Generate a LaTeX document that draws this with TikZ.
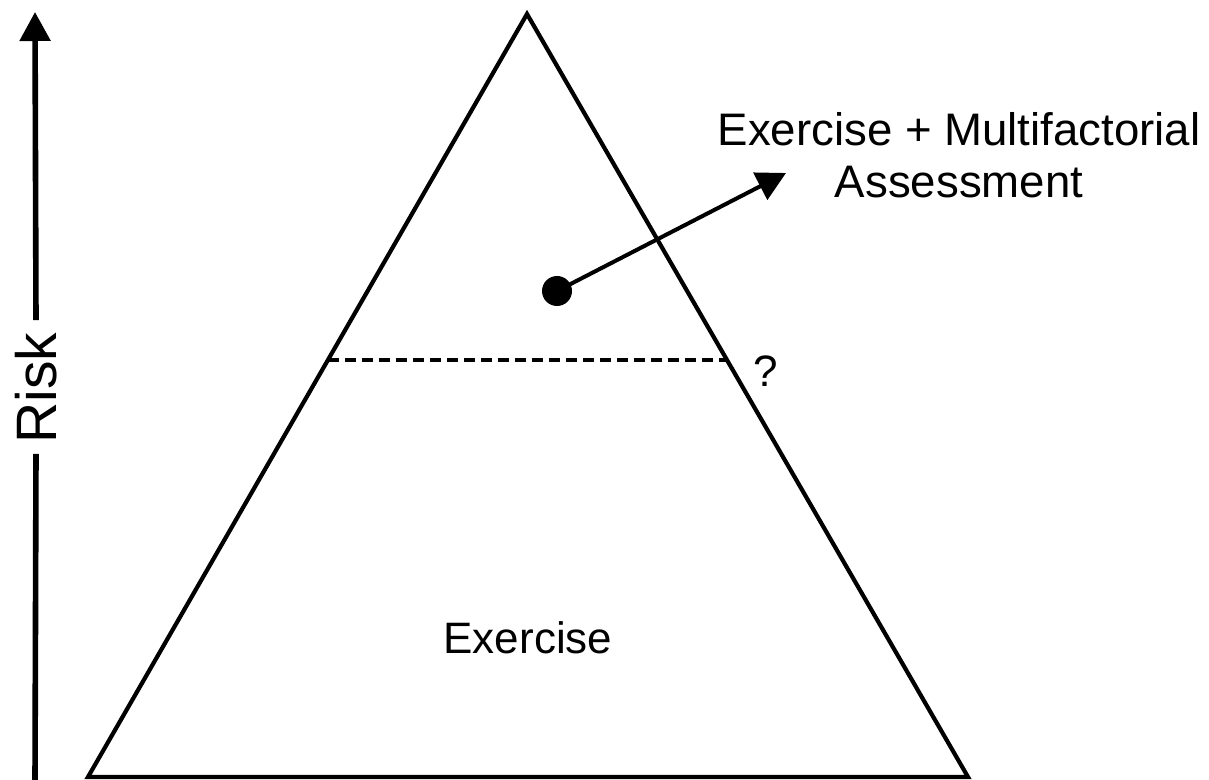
\documentclass[tikz,border=0pt]{standalone}
\usepackage{fontspec}
\setmainfont{Liberation Sans}
\usetikzlibrary{arrows.meta,calc}
\begin{document}
\begin{tikzpicture}[x=0.5pt,y=-0.5pt,
  edge/.style={line width=2.1pt,line join=miter},
  lbl/.style={font=\fontsize{22pt}{26pt}\selectfont,inner sep=0pt,align=center},
  dashline/.style={line width=1.6pt,dash pattern=on 5.5pt off 3pt},
  bigtip/.style={-{Triangle[length=14.5pt,width=15pt]}}]
\useasboundingbox (0,0) rectangle (1209,780);
% triangle
\coordinate (apex) at (527,14);
\coordinate (bl) at (88,777);
\coordinate (br) at (968,777);
\draw[edge] (bl) -- (apex) -- (br) -- cycle;
% dashed level
\coordinate (dl) at ($(bl)!0.5465!(apex)$);
\coordinate (dr) at ($(br)!0.5465!(apex)$);
\draw[dashline] (dl) -- (dr);
\node[lbl] (q) at (766,371) {?};
% risk axis
\coordinate (axbot) at (35,782);
\coordinate (axtop) at (35,12);
\node[lbl,rotate=90,font=\fontsize{28.5pt}{32pt}\selectfont] (risk) at (36,388) {Risk};
\draw[line width=2.8pt] (axbot) -- ([yshift=-5pt]risk.west);
\draw[line width=2.8pt,-{Triangle[length=14.5pt,width=15pt]}] ([yshift=6pt]risk.east) -- (axtop);
% dot and arrow
\node[circle,fill=black,inner sep=0pt,minimum size=15pt] (dot) at (557,291) {};
\coordinate (tipc) at (786,173);
\draw[line width=2pt,bigtip] (dot.center) -- (tipc);
\node[lbl,font=\fontsize{22.8pt}{26pt}\selectfont] (combo) at (959,155) {Exercise + Multifactorial\\Assessment};
\node[lbl] (ex) at (528,638) {Exercise};
\end{tikzpicture}
\end{document}
